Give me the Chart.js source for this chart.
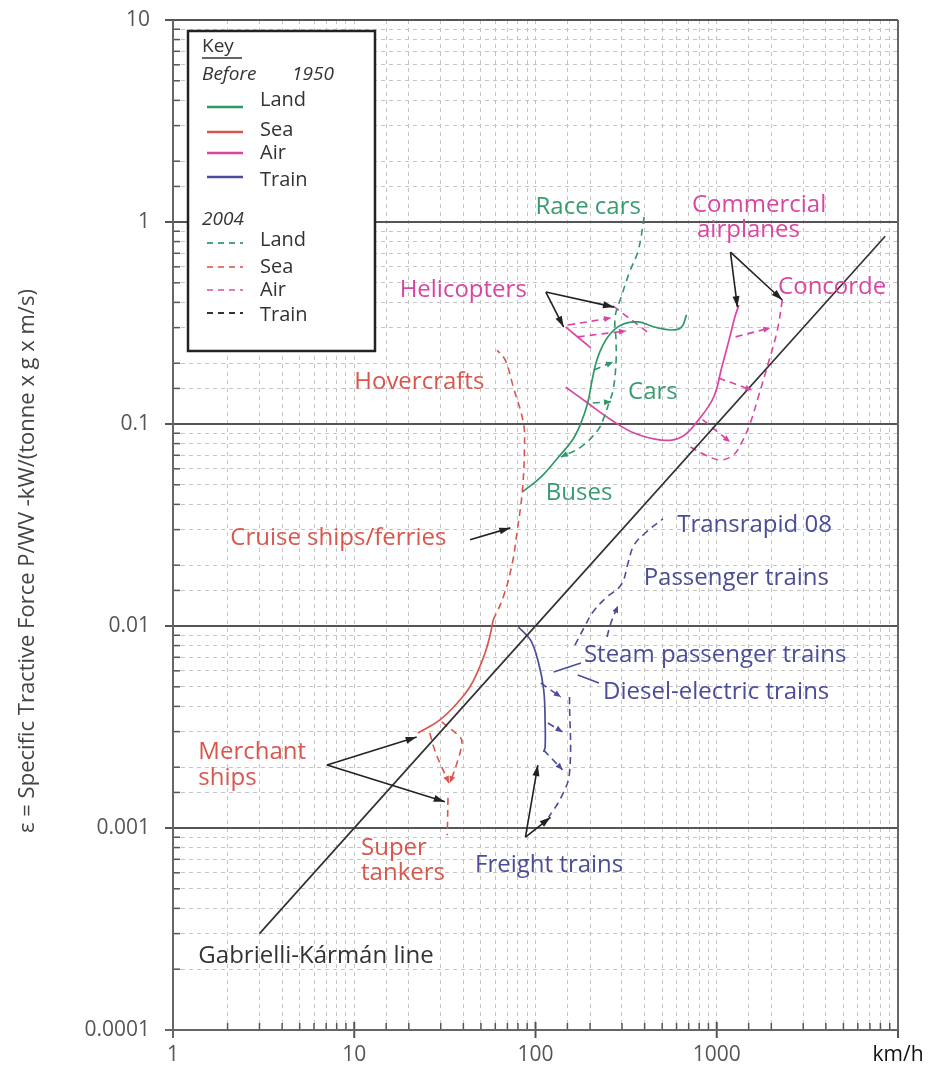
<!DOCTYPE html>
<html>
<head>
<meta charset="utf-8">
<script src="https://cdn.jsdelivr.net/npm/chart.js@4.4.1/dist/chart.umd.min.js"></script>
<style>
  body { margin: 0; background: #fff; }
  #chart { display: block; }
</style>
</head>
<body>
<canvas id="chart" width="933" height="1074"></canvas>
<script>
// axis ticks
const xTicks = [1, 10, 100, 1000, 10000];
const xTickText = ['1', '10', '100', '1000', 'km/h'];
const yTicks = [0.0001, 0.001, 0.01, 0.1, 1, 10];
const yTickText = ['0.0001', '0.001', '0.01', '0.1', '1', '10'];
const yTitle = 'ε = Specific Tractive Force P/WV -kW/(tonne x g x m/s)';

// [speed km/h, specific tractive force]
const gkLine = [[3, 0.0003], [8500, 0.85]];

// sea
const merchant1950 = [[22.4, 0.00295], [29.7, 0.00343], [38.3, 0.0043], [43.5, 0.005], [47.6, 0.00585], [52.7, 0.00735], [56.2, 0.00902], [58.4, 0.0107]];
const ferries2004 = [[58.4, 0.0107], [66.4, 0.0139], [74.5, 0.0205], [79.4, 0.0299], [84.7, 0.0471], [86.9, 0.0769], [85.8, 0.101], [75.5, 0.152], [68.1, 0.207], [61.5, 0.232]];
const tankerA = [[26.1, 0.00295], [27.8, 0.00243], [30.4, 0.0020], [33.3, 0.00167]];
const tankerB = [[30.4, 0.00335], [38.3, 0.00282], [39.3, 0.00264], [37.3, 0.00217], [35.0, 0.00183], [33.7, 0.00167]];
const tankerC = [[32.9, 0.00141], [32.6, 0.00092]];

// land
const land1950 = [[84.7, 0.0461], [107, 0.0546], [134, 0.0687], [160, 0.0833], [178, 0.101], [194, 0.127], [207, 0.171], [221, 0.215], [251, 0.27], [297, 0.309], [369, 0.32], [452, 0.302], [562, 0.292], [639, 0.302], [681, 0.347]];
const land2004 = [[398, 1.06], [369, 0.726], [329, 0.56], [297, 0.425], [275, 0.339], [278, 0.261], [278, 0.2], [268, 0.147], [254, 0.127], [239, 0.108], [221, 0.0934], [178, 0.0769], [138, 0.0687]];
const landStepA = [[210, 0.185], [268, 0.203]];
const landStepB = [[207, 0.127], [261, 0.129]];

// air
const heli1950 = [[147, 0.302], [202, 0.238]];
const heliStepA = [[151, 0.309], [261, 0.335]];
const heliStepB = [[171, 0.27], [316, 0.289]];
const heli2004 = [[268, 0.384], [435, 0.276]];
const planes1950 = [[147, 0.152], [194, 0.127], [261, 0.105], [350, 0.0902], [495, 0.0833], [639, 0.0862], [794, 0.105], [962, 0.136], [1066, 0.191], [1181, 0.27], [1259, 0.339], [1325, 0.388]];
const concorde2004 = [[2300, 0.411], [2160, 0.292], [1925, 0.2], [1695, 0.136], [1530, 0.101], [1350, 0.0787], [1235, 0.0703], [1045, 0.0664], [865, 0.0703], [715, 0.0769]];
const planeStepA = [[1270, 0.27], [1975, 0.299]];
const planeStepB = [[1020, 0.169], [1570, 0.147]];
const planeStepC = [[835, 0.105], [1185, 0.0815]];

// train
const steam1950 = [[80.4, 0.00989], [93.8, 0.00853], [104, 0.00656], [111, 0.00482], [113, 0.00331], [113, 0.00252], [111, 0.00238]];
const freight2004 = [[154, 0.00445], [154, 0.00187], [138, 0.00141], [118, 0.00113]];
const trainStepA = [[107, 0.00522], [138, 0.00445]];
const trainStepB = [[117, 0.00331], [141, 0.00299]];
const trainStepC = [[111, 0.00243], [141, 0.00194]];
const passenger2004 = [[165, 0.00805], [185, 0.00978], [207, 0.0117], [245, 0.0138], [297, 0.016], [324, 0.0205], [350, 0.0252], [409, 0.0292], [505, 0.0339]];
const passengerB = [[248, 0.00883], [262, 0.0105], [285, 0.0126]];

const GREEN = '#2f9866', RED = '#d9564c', PINK = '#d946a2', BLUE = '#4b4d98';

// text notes: [text, speed, force, colour]
const notes = [
  ['Race cars', 100, 1.19, '#3a9a70'],
  ['Commercial', 730, 1.21, PINK],
  ['airplanes', 778, 0.913, PINK],
  ['Concorde', 2180, 0.477, PINK],
  ['Helicopters', 17.8, 0.461, PINK],
  ['Hovercrafts', 10, 0.161, RED],
  ['Cars', 324, 0.144, '#3a9a70'],
  ['Buses', 114, 0.0455, '#3a9a70'],
  ['Cruise ships/ferries', 2.07, 0.0273, RED],
  ['Transrapid 08', 605, 0.0316, BLUE],
  ['Passenger trains', 395, 0.0173, BLUE],
  ['Steam passenger trains', 185, 0.00718, BLUE],
  ['Diesel-electric trains', 236, 0.00471, BLUE],
  ['Merchant', 1.38, 0.00238, RED],
  ['ships', 1.38, 0.00177, RED],
  ['Super', 10.9, 0.000796, RED],
  ['tankers', 10.9, 0.000599, RED],
  ['Freight trains', 46.4, 0.000656, BLUE],
  ['Gabrielli-Kármán line', 1.38, 0.000232, '#333']
];

// black pointers: from, [targets]
const pointers = [
  [[114, 0.45], [[143, 0.302], [271, 0.379]]],
  [[1190, 0.71], [[1300, 0.379], [2300, 0.411]]],
  [[43.5, 0.0267], [[72.6, 0.0306]]],
  [[7.08, 0.00205], [[22.1, 0.00282], [31.6, 0.00135]]],
  [[88, 0.000902], [[103, 0.00205], [121, 0.00113]]]
];
// plain leader lines for train names
const leaders = [
  [[126, 0.00592], [178, 0.00656]],
  [[171, 0.00572], [224, 0.00522]]
];

function series(pts, color, dashed, head) {
  return {
    data: pts.map(p => ({ x: p[0], y: p[1] })),
    borderColor: color,
    borderWidth: dashed ? 1.6 : 1.7,
    borderDash: dashed ? [7, 5] : [],
    showLine: true,
    pointRadius: 0,
    tension: 0.4,
    head: head || false
  };
}

const datasets = [
  series(gkLine, '#333', false),
  series(merchant1950, RED, false),
  series(ferries2004, RED, true),
  series(tankerA, RED, true, true),
  series(tankerB, RED, true, true),
  series(tankerC, RED, true),
  series(land1950, GREEN, false),
  series(land2004, GREEN, true, true),
  series(landStepA, GREEN, true, true),
  series(landStepB, GREEN, true, true),
  series(heli1950, PINK, false),
  series(heliStepA, PINK, true, true),
  series(heliStepB, PINK, true, true),
  series(heli2004, PINK, true),
  series(planes1950, PINK, false),
  series(concorde2004, PINK, true),
  series(planeStepA, PINK, true, true),
  series(planeStepB, PINK, true, true),
  series(planeStepC, PINK, true, true),
  series(steam1950, BLUE, false),
  series(freight2004, BLUE, true),
  series(trainStepA, BLUE, true, true),
  series(trainStepB, BLUE, true, true),
  series(trainStepC, BLUE, true, true),
  series(passenger2004, BLUE, true),
  series(passengerB, BLUE, true, true)
];

const isDecade = v => Math.abs(Math.log10(v) - Math.round(Math.log10(v))) < 1e-6;
const FONT = '"Open Sans", "DejaVu Sans", sans-serif';

function head(ctx, x0, y0, x1, y1, color, len, w) {
  const a = Math.atan2(y1 - y0, x1 - x0);
  ctx.save();
  ctx.translate(x1, y1);
  ctx.rotate(a);
  ctx.beginPath();
  ctx.moveTo(0, 0);
  ctx.lineTo(-len, w / 2);
  ctx.lineTo(-len, -w / 2);
  ctx.closePath();
  ctx.fillStyle = color;
  ctx.fill();
  ctx.restore();
}

// solid decade lines, frame and tick marks
const frame = {
  id: 'frame',
  beforeDatasetsDraw(chart) {
    const { ctx, chartArea: a, scales: { x, y } } = chart;
    ctx.save();
    ctx.strokeStyle = '#555';
    ctx.lineWidth = 2;
    y.ticks.forEach(t => {
      const yy = y.getPixelForValue(t.value);
      if (isDecade(t.value)) {
        ctx.beginPath(); ctx.moveTo(a.left - 8, yy); ctx.lineTo(a.right, yy); ctx.stroke();
      } else {
        ctx.lineWidth = 1.5;
        ctx.beginPath(); ctx.moveTo(a.left, yy); ctx.lineTo(a.left + 7, yy); ctx.stroke();
        ctx.lineWidth = 2;
      }
    });
    x.ticks.forEach(t => {
      const xx = x.getPixelForValue(t.value);
      if (isDecade(t.value)) {
        ctx.beginPath(); ctx.moveTo(xx, a.bottom + 8); ctx.lineTo(xx, a.bottom - 8); ctx.stroke();
      } else {
        ctx.lineWidth = 1.5;
        ctx.beginPath(); ctx.moveTo(xx, a.bottom); ctx.lineTo(xx, a.bottom - 7); ctx.stroke();
        ctx.lineWidth = 2;
      }
    });
    ctx.strokeStyle = '#666';
    ctx.beginPath(); ctx.moveTo(a.right, a.top); ctx.lineTo(a.right, a.bottom); ctx.stroke();
    ctx.beginPath(); ctx.moveTo(a.left - 8, a.bottom); ctx.lineTo(a.right, a.bottom); ctx.stroke();
    ctx.beginPath(); ctx.moveTo(a.left, a.top); ctx.lineTo(a.left, a.bottom + 8); ctx.stroke();
    ctx.restore();
  }
};

const notesPlugin = {
  id: 'notes',
  afterDatasetsDraw(chart) {
    const { ctx, chartArea: a, scales: { x, y } } = chart;
    const P = p => [x.getPixelForValue(p[0]), y.getPixelForValue(p[1])];
    ctx.save();

    // arrowheads on step arrows
    chart.data.datasets.forEach((ds, i) => {
      if (!ds.head) return;
      const pts = chart.getDatasetMeta(i).data;
      const p = pts[pts.length - 1], q = pts[pts.length - 2];
      head(ctx, q.x, q.y, p.x, p.y, ds.borderColor, 7, 6);
    });

    // black pointers
    ctx.strokeStyle = '#222';
    ctx.lineWidth = 1.6;
    pointers.forEach(([from, tos]) => {
      const f = P(from);
      tos.forEach(t => {
        const e = P(t);
        ctx.beginPath(); ctx.moveTo(f[0], f[1]); ctx.lineTo(e[0], e[1]); ctx.stroke();
        head(ctx, f[0], f[1], e[0], e[1], '#222', 11, 7);
      });
    });
    ctx.strokeStyle = BLUE;
    ctx.lineWidth = 1.6;
    leaders.forEach(([f, t]) => {
      const p = P(f), q = P(t);
      ctx.beginPath(); ctx.moveTo(p[0], p[1]); ctx.lineTo(q[0], q[1]); ctx.stroke();
    });

    // text notes
    ctx.font = '24px ' + FONT;
    ctx.textAlign = 'left';
    ctx.textBaseline = 'middle';
    notes.forEach(([t, vx, vy, c]) => {
      const p = P([vx, vy]);
      ctx.fillStyle = c;
      ctx.fillText(t, p[0], p[1]);
    });

    // key box
    const L = a.left + 15, T = a.top + 11;
    ctx.fillStyle = '#fff';
    ctx.fillRect(L, T, 187, 320);
    ctx.strokeStyle = '#222';
    ctx.lineWidth = 2.5;
    ctx.strokeRect(L, T, 187, 320);
    ctx.fillStyle = '#333';
    ctx.font = '19px ' + FONT;
    ctx.fillText('Key', L + 14, T + 16);
    ctx.lineWidth = 1.3;
    ctx.strokeStyle = '#333';
    ctx.beginPath(); ctx.moveTo(L + 14, T + 27); ctx.lineTo(L + 54, T + 27); ctx.stroke();
    ctx.font = 'italic 19px ' + FONT;
    ctx.fillText('Before', L + 14, T + 44);
    ctx.fillText('1950', L + 104, T + 44);
    ctx.fillText('2004', L + 14, T + 189);
    const rows = [['Land', GREEN], ['Sea', RED], ['Air', PINK], ['Train', BLUE]];
    const solidY = [76, 101, 122, 146], solidT = [69, 99, 122, 149];
    const dashY = [212, 236, 259, 282], dashT = [209, 236, 259, 284];
    const dashCol = ['#4aa57c', '#e07a70', '#e07ab8', '#333'];
    ctx.font = '20px ' + FONT;
    rows.forEach(([name, col], i) => {
      ctx.strokeStyle = col;
      ctx.lineWidth = 2.4;
      ctx.setLineDash([]);
      ctx.beginPath(); ctx.moveTo(L + 19, T + solidY[i]); ctx.lineTo(L + 55, T + solidY[i]); ctx.stroke();
      ctx.fillStyle = '#333';
      ctx.fillText(name, L + 72, T + solidT[i]);
      ctx.strokeStyle = dashCol[i];
      ctx.lineWidth = 1.8;
      ctx.setLineDash([6, 5]);
      ctx.beginPath(); ctx.moveTo(L + 19, T + dashY[i]); ctx.lineTo(L + 55, T + dashY[i]); ctx.stroke();
      ctx.setLineDash([]);
      ctx.fillText(name, L + 72, T + dashT[i]);
    });

    // y axis title
    ctx.translate(28, (a.top + a.bottom) / 2 + 36);
    ctx.rotate(-Math.PI / 2);
    ctx.textAlign = 'center';
    ctx.font = '22px ' + FONT;
    ctx.fillStyle = '#444';
    ctx.fillText(yTitle, 0, 0);
    ctx.restore();
  }
};

const lightGrid = ctx => (ctx.tick && isDecade(ctx.tick.value)) ? 'rgba(0,0,0,0)' : '#c4c4c4';

new Chart(document.getElementById('chart'), {
  type: 'scatter',
  data: { datasets },
  options: {
    responsive: false,
    animation: false,
    events: [],
    layout: { padding: { top: 20, right: 35, left: 0, bottom: 0 } },
    plugins: { legend: { display: false }, tooltip: { enabled: false } },
    scales: {
      x: {
        type: 'logarithmic',
        min: 1,
        max: 10000,
        afterFit: s => { s.height = 44; s.paddingLeft = 0; s.paddingRight = 0; },
        grid: { color: ctx => (ctx.tick && (ctx.tick.value === 1 || ctx.tick.value === 10000)) ? 'rgba(0,0,0,0)' : '#c4c4c4', lineWidth: 1, drawTicks: false },
        border: { display: false, dash: [4, 4] },
        ticks: {
          autoSkip: false,
          maxRotation: 0,
          padding: 12,
          font: { family: FONT, size: 21 },
          color: ctx => (ctx.tick && ctx.tick.value === 10000) ? '#111' : '#555',
          callback: v => {
            const k = xTicks.findIndex(t => Math.abs(v / t - 1) < 1e-6);
            return k < 0 ? '' : xTickText[k];
          }
        }
      },
      y: {
        type: 'logarithmic',
        min: 0.0001,
        max: 10,
        afterFit: s => { s.width = 173; s.paddingTop = 0; s.paddingBottom = 0; },
        grid: { color: lightGrid, lineWidth: 1, drawTicks: false },
        border: { display: false, dash: [4, 4] },
        ticks: {
          autoSkip: false,
          padding: 23,
          font: { family: FONT, size: 21 },
          color: '#555',
          callback: v => {
            const k = yTicks.findIndex(t => Math.abs(v / t - 1) < 1e-6);
            return k < 0 ? '' : yTickText[k];
          }
        }
      }
    }
  },
  plugins: [frame, notesPlugin]
});
</script>
</body>
</html>
